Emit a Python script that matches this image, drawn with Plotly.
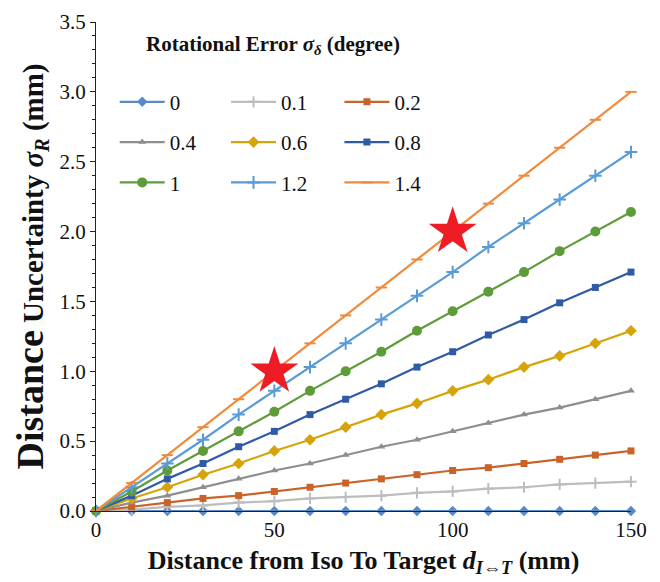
import plotly.graph_objects as go

x_mm = [0, 10, 20, 30, 40, 50, 60, 70, 80, 90, 100, 110, 120, 130, 140, 150]

series_names = ["0", "0.1", "0.2", "0.4", "0.6", "0.8", "1", "1.2", "1.4"]
s_0 = [0, 0, 0, 0, 0, 0, 0, 0, 0, 0, 0, 0, 0, 0, 0, 0]
s_01 = [0, 0.01, 0.03, 0.04, 0.06, 0.07, 0.09, 0.10, 0.11, 0.13, 0.14, 0.16, 0.17, 0.19, 0.20, 0.21]
s_02 = [0, 0.03, 0.06, 0.09, 0.11, 0.14, 0.17, 0.20, 0.23, 0.26, 0.29, 0.31, 0.34, 0.37, 0.40, 0.43]
s_04 = [0, 0.06, 0.11, 0.17, 0.23, 0.29, 0.34, 0.40, 0.46, 0.51, 0.57, 0.63, 0.69, 0.74, 0.80, 0.86]
s_06 = [0, 0.09, 0.17, 0.26, 0.34, 0.43, 0.51, 0.60, 0.69, 0.77, 0.86, 0.94, 1.03, 1.11, 1.20, 1.29]
s_08 = [0, 0.11, 0.23, 0.34, 0.46, 0.57, 0.69, 0.80, 0.91, 1.03, 1.14, 1.26, 1.37, 1.49, 1.60, 1.71]
s_10 = [0, 0.14, 0.29, 0.43, 0.57, 0.71, 0.86, 1.00, 1.14, 1.29, 1.43, 1.57, 1.71, 1.86, 2.00, 2.14]
s_12 = [0, 0.17, 0.34, 0.51, 0.69, 0.86, 1.03, 1.20, 1.37, 1.54, 1.71, 1.89, 2.06, 2.23, 2.40, 2.57]
s_14 = [0, 0.20, 0.40, 0.60, 0.80, 1.00, 1.20, 1.40, 1.60, 1.80, 2.00, 2.20, 2.40, 2.60, 2.80, 3.00]
series_values = [s_0, s_01, s_02, s_04, s_06, s_08, s_10, s_12, s_14]

star_x = [50, 100]
star_y = [1.0, 2.0]

x_ticks = [0, 50, 100, 150]
y_ticks = [0, 0.5, 1.0, 1.5, 2.0, 2.5, 3.0, 3.5]

colors = ["#5A8AC6", "#BDBDBD", "#C8642A", "#8E8E8E", "#D6A40A",
          "#2E5AA7", "#5E9C3A", "#5B9BD5", "#F08A3C"]
symbols = ["diamond", "cross-thin", "square", "triangle-up", "diamond",
           "square", "circle", "cross-thin", "line-ew"]
msizes = [8, 8, 7, 7, 9, 7, 10, 9, 8]
legend_ids = ["legend", "legend2", "legend3", "legend", "legend2", "legend3",
              "legend", "legend2", "legend3"]

FONT = "Liberation Serif, Times New Roman, serif"

fig = go.Figure()
for i, (name, vals) in enumerate(zip(series_names, series_values)):
    sym = symbols[i]
    marker = dict(symbol=sym, size=msizes[i], color=colors[i])
    if sym in ("cross-thin", "line-ew"):
        marker["line"] = dict(color=colors[i], width=2)
    fig.add_trace(go.Scatter(
        x=x_mm, y=vals, name=name, mode="lines+markers",
        line=dict(color=colors[i], width=2.2),
        marker=marker, cliponaxis=False,
        legend=legend_ids[i], legendgroup=name,
    ))

fig.add_trace(go.Scatter(
    x=star_x, y=star_y, mode="markers", showlegend=False,
    marker=dict(symbol="star", size=36, color="#EE1C25"),
    cliponaxis=False,
))

leg_common = dict(font=dict(family=FONT, size=21, color="#111"),
                  bgcolor="rgba(0,0,0,0)", tracegroupgap=10,
                  yanchor="top", xanchor="left", itemwidth=45)
fig.update_layout(
    legend=dict(x=0.035, y=0.878, **leg_common),
    legend2=dict(x=0.243, y=0.878, **leg_common),
    legend3=dict(x=0.455, y=0.878, **leg_common),
)

fig.add_annotation(
    text="<b>Rotational Error <i>σ</i><sub><i>δ</i></sub> (degree)</b>",
    xref="paper", yref="paper", x=0.33, y=0.952, showarrow=False,
    xanchor="center", yanchor="middle",
    font=dict(family=FONT, size=21, color="#111"),
)

fig.update_xaxes(
    range=[0, 150], tickvals=x_ticks, ticktext=[str(v) for v in x_ticks],
    showgrid=False, zeroline=False, showline=True, linecolor="#222",
    linewidth=1, ticks="", automargin=False,
    tickfont=dict(family=FONT, size=21, color="#111"),
    title=dict(text="<b>Distance from Iso To Target <i>d</i><sub><i>I⇔T</i></sub> (mm)</b>",
               font=dict(family=FONT, size=26, color="#111"), standoff=9),
)
fig.update_yaxes(
    range=[0, 3.5], tickvals=y_ticks, tickformat=".1f",
    showgrid=False, zeroline=False, showline=True, linecolor="#222",
    linewidth=1, ticks="outside", ticklen=5, tickcolor="#222", automargin=False,
    minor=dict(dtick=0.1, ticks="outside", ticklen=3, tickcolor="#222", showgrid=False),
    tickfont=dict(family=FONT, size=21, color="#111"),
    title=dict(text="<b><span style='font-size:38px'>Distance</span> Uncertainty <i>σ</i><sub><i>R</i></sub> (mm)</b>",
               font=dict(family=FONT, size=29, color="#111"), standoff=7),
)

fig.update_layout(
    width=652, height=574,
    margin=dict(l=88, r=29, t=14, b=71),
    plot_bgcolor="white", paper_bgcolor="white",
)

fig.write_html("out.html")
